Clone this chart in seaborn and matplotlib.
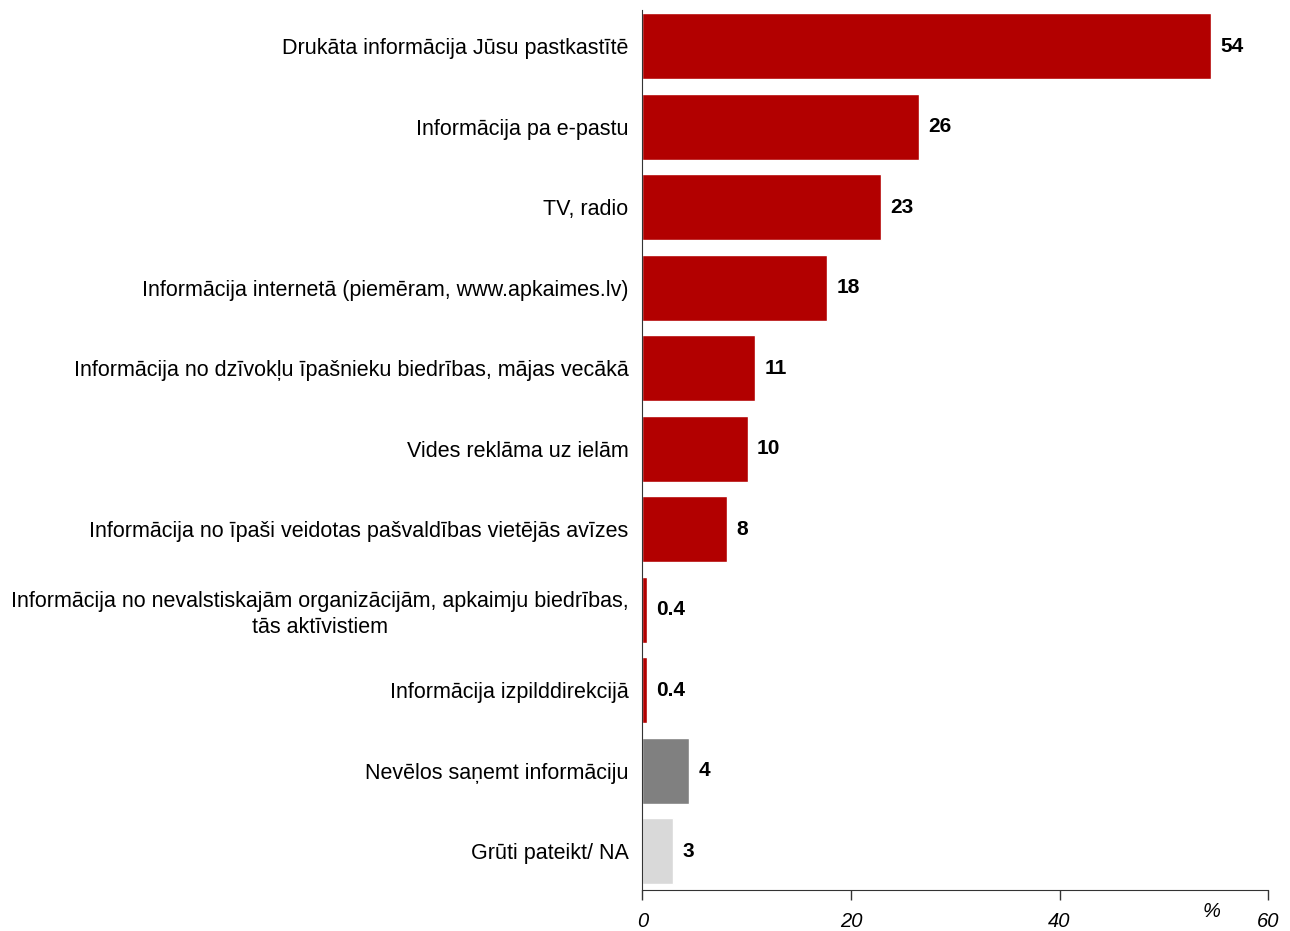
import matplotlib
matplotlib.use("Agg")
from matplotlib import pyplot as plt
import pandas as pd
import seaborn as sns

categories = [
    "Drukāta informācija Jūsu pastkastītē",
    "Informācija pa e-pastu",
    "TV, radio",
    "Informācija internetā (piemēram, www.apkaimes.lv)",
    "Informācija no dzīvokļu īpašnieku biedrības, mājas vecākā",
    "Vides reklāma uz ielām",
    "Informācija no īpaši veidotas pašvaldības vietējās avīzes",
    "Informācija no nevalstiskajām organizācijām, apkaimju biedrības,\ntās aktīvistiem",
    "Informācija izpilddirekcijā",
    "Nevēlos saņemt informāciju",
    "Grūti pateikt/ NA",
]
values = [54.5, 26.5, 22.9, 17.7, 10.8, 10.1, 8.1, 0.45, 0.45, 4.5, 2.9]
labels = ["54", "26", "23", "18", "11", "10", "8", "0.4", "0.4", "4", "3"]
colors = ["#B20000"] * 9 + ["#808080", "#D9D9D9"]

df = pd.DataFrame({"category": categories, "value": values})

sns.set_style("white")
plt.rcParams["font.family"] = ["Liberation Sans", "DejaVu Sans"]
plt.rcParams["text.color"] = "black"
plt.rcParams["xtick.color"] = "black"
plt.rcParams["ytick.color"] = "black"

f = plt.figure(figsize=(12.9, 9.31), dpi=100)
ax = f.add_axes([0.498, 0.044, 0.485, 0.945])

sns.barplot(data=df, x="value", y="category", hue="category", palette=colors,
            legend=False, width=0.82, saturation=1, ax=ax)

for i, (v, t) in enumerate(zip(values, labels)):
    ax.text(v + 0.9, i, t, va="center", ha="left", fontsize=15, fontweight="bold")

ax.set_xlim(0, 60)
ax.set_ylim(10.48, -0.45)
ax.set_xticks([0, 20, 40, 60])
ax.set_xticklabels(["0", "20", "40", "60"], fontsize=14.5, fontstyle="italic")
ax.tick_params(axis="x", bottom=True, direction="out", length=7, width=1,
               color="#333333", pad=9)
ax.tick_params(axis="y", length=0, labelsize=15.5, pad=10)
for lab in ax.get_yticklabels():
    lab.set_multialignment("center")
    lab.set_linespacing(1.3)
ax.set_xlabel("")
ax.set_ylabel("")
sns.despine(ax=ax, top=True, right=True)
ax.spines["left"].set_color("#333333")
ax.spines["bottom"].set_color("#333333")
ax.text(54.6, 10.75, "%", fontsize=14.5, fontstyle="italic", ha="center", va="center")

f.savefig("out.png", dpi=100)
